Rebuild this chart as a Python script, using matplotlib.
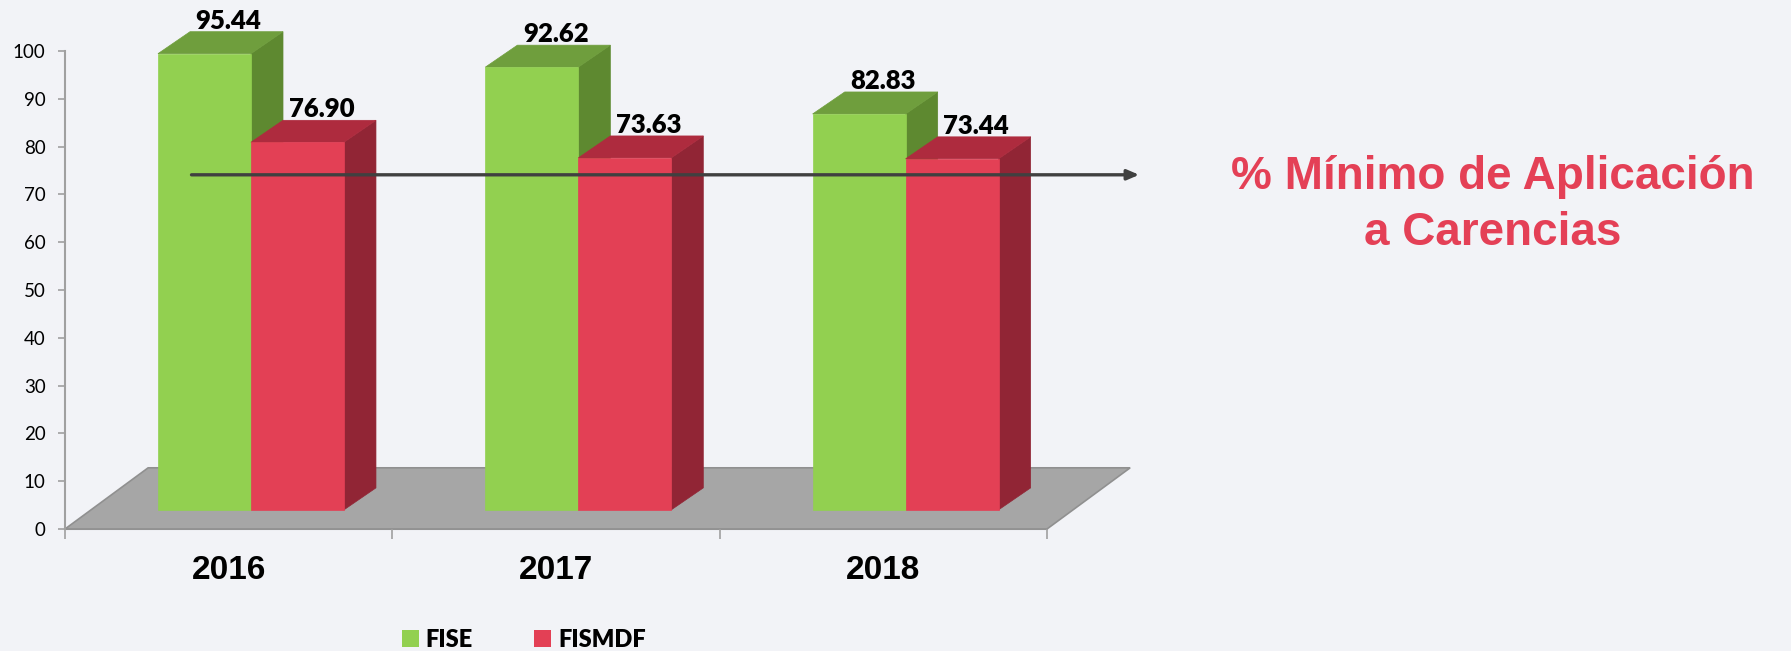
import matplotlib.pyplot as plt
from matplotlib.patches import Polygon, Patch

years = ["2016", "2017", "2018"]
fise = [95.44, 92.62, 82.83]
fismdf = [76.90, 73.63, 73.44]
series_names = ["FISE", "FISMDF"]
minimo = 74.1
title = "% Mínimo de Aplicación\na Carencias"

bg = "#F2F3F7"
green = ("#92D050", "#6F9E3D", "#5E8930")
red = ("#E34055", "#AE2B3E", "#912535")

fig = plt.figure(figsize=(17.91, 6.51), dpi=100, facecolor=bg)
ax = fig.add_axes([65 / 1791, 1 - 529 / 651, 982 / 1791, 478 / 651])
ax.set_facecolor(bg)
ax.set_xlim(-0.5, 2.5)
ax.set_ylim(0, 100)

# pseudo 3d geometry (category / value units)
base = 4.0
dx, dy = 0.098, 4.6
width = 0.284
left0 = -0.216
fdx, fdy = 0.254, 12.8

floor = Polygon([(-0.5, 0), (2.5, 0), (2.5 + fdx, fdy), (-0.5 + fdx, fdy)],
                closed=True, facecolor="#A6A6A6", edgecolor="#909090", lw=1.2,
                clip_on=False, zorder=1)
ax.add_patch(floor)


def bar3d(x0, v, cols):
    x1 = x0 + width
    top = base + v
    front = [(x0, base), (x1, base), (x1, top), (x0, top)]
    lid = [(x0, top), (x1, top), (x1 + dx, top + dy), (x0 + dx, top + dy)]
    side = [(x1, base), (x1 + dx, base + dy), (x1 + dx, top + dy), (x1, top)]
    for pts, c in zip([side, lid, front], [cols[2], cols[1], cols[0]]):
        ax.add_patch(Polygon(pts, closed=True, facecolor=c, edgecolor=c,
                             lw=0.5, clip_on=False, zorder=2))
    ax.text(x0 + width / 2 + dx * 0.75, top + dy + 0.6, f"{v:.2f}",
            ha="center", va="baseline", fontsize=18.5, fontweight="heavy",
            family="Lato", color="black", zorder=5)


for i in range(len(years)):
    bar3d(i + left0, fise[i], green)
    bar3d(i + left0 + width, fismdf[i], red)

ax.annotate("", xy=(2.79, minimo), xytext=(-0.122, minimo),
            arrowprops=dict(arrowstyle="-|>,head_length=0.7,head_width=0.3",
                            color="#404040", lw=2.4),
            annotation_clip=False, zorder=6)

for s in ["top", "right"]:
    ax.spines[s].set_visible(False)
for s in ["left", "bottom"]:
    ax.spines[s].set_color("#A0A0A0")
    ax.spines[s].set_linewidth(1.5)
ax.spines["bottom"].set_zorder(0)

ax.set_yticks(range(0, 101, 10))
ax.tick_params(axis="y", length=5, width=1.2, color="#A0A0A0", pad=9)
for lab in ax.get_yticklabels():
    lab.set_family("Lato")
    lab.set_fontsize(13.5)

ax.set_xticks(range(len(years)))
ax.set_xticklabels(years, fontsize=24, fontweight="bold", family="Liberation Sans")
ax.tick_params(axis="x", length=0, pad=19)
ax.set_xticks([-0.5, 0.5, 1.5, 2.5], minor=True)
ax.tick_params(axis="x", which="minor", length=7, width=1.2, color="#A0A0A0")

fig.text(1493 / 1791, 1 - 205 / 651, title, ha="center", va="center",
         fontsize=33, fontweight="bold", family="Liberation Sans",
         color="#E44056", linespacing=1.33)

handles = [Patch(facecolor=green[0]), Patch(facecolor=red[0])]
leg = fig.legend(handles, series_names, loc="center", ncol=2,
                 bbox_to_anchor=(524 / 1791, 1 - 640 / 651), frameon=False,
                 handlelength=0.72, handleheight=0.72, handletextpad=0.3,
                 columnspacing=2.6, prop={"family": "Lato", "weight": "heavy", "size": 17})

fig.savefig("out.png", dpi=100, facecolor=bg)
